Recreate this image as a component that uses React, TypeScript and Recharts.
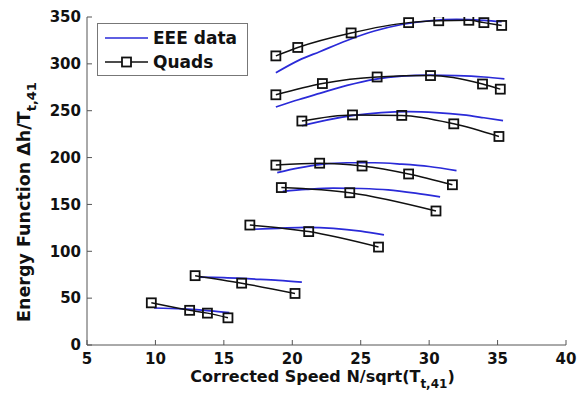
import { LineChart, Line, XAxis, YAxis } from 'recharts';

// Quads model runs (speed, energy function) - one array per speed line
const quads1 = [[9.7, 45], [12.5, 37], [13.8, 34], [15.3, 29]];
const quads2 = [[12.9, 74], [16.3, 66], [20.2, 55]];
const quads3 = [[16.9, 128], [21.2, 121], [26.3, 104.5]];
const quads4 = [[19.2, 168], [24.2, 162.5], [30.5, 143]];
const quads5 = [[18.8, 192], [22, 194], [25.1, 191], [28.5, 182.5], [31.7, 171]];
const quads6 = [[20.7, 239], [24.4, 245.5], [28, 245], [31.8, 236], [35.1, 222.5]];
const quads7 = [[18.8, 267], [22.2, 279], [26.2, 286], [30.1, 287.5], [33.9, 278.5], [35.2, 273]];
const quads8 = [[18.8, 308.5], [20.4, 317.5], [24.3, 333], [28.5, 344], [30.7, 346], [32.9, 346.5], [34, 344], [35.3, 341]];

// EEE engine data
const eee1 = [[9.9, 39.5], [12, 38.5], [14, 36.5], [15.4, 34.5]];
const eee2 = [[13.2, 72.5], [15, 72], [17, 70.5], [19, 69], [20.7, 67]];
const eee3 = [[17.2, 123.5], [19, 124.5], [21, 125.5], [23, 124.5], [25, 121.5], [26.7, 117.5]];
const eee4 = [[19.3, 164], [21, 166], [23, 167.5], [25, 167], [27, 165.5], [29, 162], [30.8, 158]];
const eee5 = [[18.9, 184], [20.5, 189], [22, 192.5], [24, 194.5], [26, 194.5], [28, 193], [30, 190.5], [32, 186]];
const eee6 = [[20.7, 234], [22.5, 240], [24.5, 245], [26.5, 248], [28.5, 249], [30.5, 248], [32.5, 245.5], [34, 242.5], [35.4, 239.5]];
const eee7 = [[18.8, 254], [20.5, 262], [22, 268.5], [24, 277], [26, 283.5], [28, 287], [30, 288], [32, 287.5], [34, 286], [35.5, 284]];
const eee8 = [[18.8, 290.5], [20.5, 304], [22, 313], [24, 325], [26, 335], [28, 342], [30, 346], [32, 347.5], [34, 346.5], [35.3, 345]];

const xTicks = [5, 10, 15, 20, 25, 30, 35, 40];
const yTicks = [0, 50, 100, 150, 200, 250, 300, 350];

const quadsSets = [quads1, quads2, quads3, quads4, quads5, quads6, quads7, quads8];
const eeeSets = [eee1, eee2, eee3, eee4, eee5, eee6, eee7, eee8];

const toRows = (pts: number[][]) => pts.map(([x, y]) => ({ x, y }));

const FONT = '"DejaVu Sans", sans-serif';
const BLUE = '#2a2ad8';

// open square marker, matlab style
const SquareDot = (props: any) => {
  const { cx, cy, index } = props;
  if (cx == null || cy == null) return null;
  return (
    <rect key={index} x={cx - 4.5} y={cy - 4.5} width={9} height={9} fill="none" stroke="#111" strokeWidth={1.8} />
  );
};

const XLabel = ({ viewBox }: any) => {
  const cx = viewBox.x + viewBox.width / 2 - 4;
  return (
    <text x={cx} y={382} textAnchor="middle" fontFamily={FONT} fontWeight="bold" fontSize={16} fill="#111">
      Corrected Speed N/sqrt(T
      <tspan fontSize={12} dy={6}>t,41</tspan>
      <tspan dy={-6}>)</tspan>
    </text>
  );
};

const YLabel = () => (
  <text
    transform="translate(30, 202) rotate(-90)"
    textAnchor="middle"
    fontFamily={FONT}
    fontWeight="bold"
    fontSize={17.5}
    fill="#111"
  >
    Energy Function Δh/T
    <tspan fontSize={13} dy={6}>t,41</tspan>
  </text>
);

const tickStyle = { fontFamily: FONT, fontWeight: 'bold', fontSize: 15, fill: '#111' };

export default function App() {
  return (
    <div style={{ position: 'absolute', left: 0, top: 0, width: 588, height: 397, background: '#fff' }}>
      <LineChart width={588} height={397} margin={{ top: 17, right: 22, bottom: 0, left: 0 }}>
        <XAxis
          xAxisId="b"
          dataKey="x"
          type="number"
          domain={[5, 40]}
          ticks={xTicks}
          allowDataOverflow
          height={52}
          stroke="#555"
          tickSize={-5}
          tickMargin={13}
          tick={tickStyle}
          label={<XLabel />}
        />
        <XAxis
          xAxisId="t"
          orientation="top"
          dataKey="x"
          type="number"
          domain={[5, 40]}
          ticks={xTicks}
          allowDataOverflow
          height={0}
          stroke="#555"
          tickSize={-5}
          tickFormatter={() => ''}
        />
        <YAxis
          yAxisId="l"
          type="number"
          domain={[0, 350]}
          ticks={yTicks}
          allowDataOverflow
          width={87}
          stroke="#555"
          tickSize={-5}
          tickMargin={11}
          tick={tickStyle}
          label={<YLabel />}
        />
        <YAxis
          yAxisId="r"
          orientation="right"
          type="number"
          domain={[0, 350]}
          ticks={yTicks}
          allowDataOverflow
          width={0}
          stroke="#555"
          tickSize={-5}
          tickFormatter={() => ''}
        />
        {eeeSets.map((pts, i) => (
          <Line
            key={'eee' + i}
            xAxisId="b"
            yAxisId="l"
            data={toRows(pts)}
            dataKey="y"
            type="monotone"
            stroke={BLUE}
            strokeWidth={1.7}
            dot={false}
            isAnimationActive={false}
          />
        ))}
        {quadsSets.map((pts, i) => (
          <Line
            key={'q' + i}
            xAxisId="b"
            yAxisId="l"
            data={toRows(pts)}
            dataKey="y"
            type="monotone"
            stroke="#111"
            strokeWidth={1.5}
            dot={<SquareDot />}
            isAnimationActive={false}
          />
        ))}
      </LineChart>
      {/* legend box, top-left inside the axes */}
      <svg style={{ position: 'absolute', left: 97, top: 23 }} width={151} height={53}>
        <rect x={0.5} y={0.5} width={150} height={52} fill="#fff" stroke="#777" />
        <line x1={8} y1={15} x2={51} y2={15} stroke={BLUE} strokeWidth={1.7} />
        <text x={56} y={21} fontFamily={FONT} fontWeight="bold" fontSize={17} fill="#111">EEE data</text>
        <line x1={8} y1={39} x2={51} y2={39} stroke="#111" strokeWidth={1.5} />
        <rect x={25} y={34.5} width={9} height={9} fill="#fff" stroke="#111" strokeWidth={1.8} />
        <text x={56} y={45} fontFamily={FONT} fontWeight="bold" fontSize={17} fill="#111">Quads</text>
      </svg>
    </div>
  );
}
